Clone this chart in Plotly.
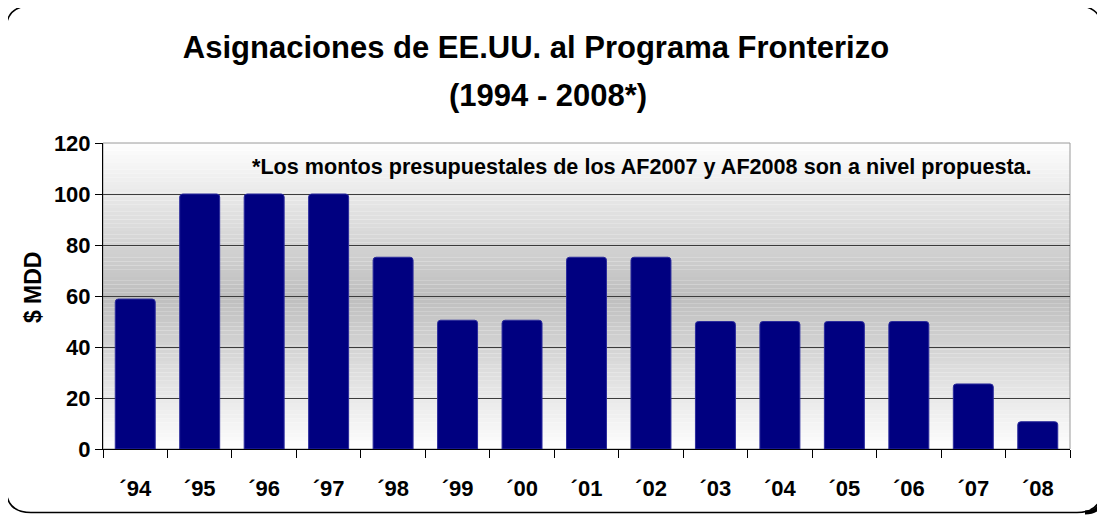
import plotly.graph_objects as go

categories = ["´94", "´95", "´96", "´97", "´98", "´99", "´00", "´01", "´02",
              "´03", "´04", "´05", "´06", "´07", "´08"]
values = [58.8, 100, 100, 100, 75.2, 50.5, 50.5, 75.2, 75.2, 50, 50, 50, 50, 25.5, 10.7]
y_ticks = [0, 20, 40, 60, 80, 100, 120]

title_line1 = "Asignaciones de EE.UU. al Programa Fronterizo"
title_line2 = "(1994 - 2008*)"
note_text = "*Los montos presupuestales de los AF2007 y AF2008 son a nivel propuesta."
y_title = "$ MDD"

# page body has an 8px default margin; figure is sized/positioned to compensate
OFF = 8
WIN_W, WIN_H = 1105, 515
W, H = WIN_W - OFF, WIN_H - OFF
# plot area in window pixels
PX0, PX1, PY0, PY1 = 103, 1070, 142.5, 449.3
L, R, T, B = PX0 - OFF, WIN_W - PX1, PY0 - OFF, WIN_H - PY1
PW, PH = PX1 - PX0, PY1 - PY0

def px(x):
    return (x - PX0) / PW

def py(y):
    return (PY1 - y) / PH

FONT = "Liberation Sans, Arial, sans-serif"

fig = go.Figure()
fig.add_trace(go.Bar(
    x=categories, y=values,
    marker=dict(color="#000080", line=dict(color="#2b2b9c", width=1), cornerradius=3),
    hoverinfo="x+y",
))

shapes = []
# gradient background (white edges, gray centre)
N = 80
for i in range(N):
    t0, t1 = i / N, (i + 1) / N
    tm = (t0 + t1) / 2
    g = int(round(254 - 64 * (1 - abs(tm - 0.5) / 0.5)))
    col = f"rgb({g},{g},{g})"
    shapes.append(dict(type="rect", xref="paper", yref="paper", x0=0, x1=1, y0=t0, y1=t1,
                       fillcolor=col, line=dict(width=0), layer="below"))
# plot area border
shapes.append(dict(type="rect", xref="paper", yref="paper", x0=0, x1=1, y0=0, y1=1,
                   line=dict(color="#9a9a9a", width=1), layer="below"))

# outer rounded frame
xl, xr, yt, yb, r = 6, 1102, 5, 513, 25
path = (f"M {px(xl+r)},{py(yt)} L {px(xr-r)},{py(yt)} Q {px(xr)},{py(yt)} {px(xr)},{py(yt+r)} "
        f"L {px(xr)},{py(yb-r)} Q {px(xr)},{py(yb)} {px(xr-r)},{py(yb)} "
        f"L {px(xl+r)},{py(yb)} Q {px(xl)},{py(yb)} {px(xl)},{py(yb-r)} "
        f"L {px(xl)},{py(yt+r)} Q {px(xl)},{py(yt)} {px(xl+r)},{py(yt)} Z")
shapes.append(dict(type="path", xref="paper", yref="paper", path=path,
                   line=dict(color="#000000", width=1.5), layer="above"))
# thick shadow at bottom-right corner
path2 = f"M {px(xr)},{py(yb-r+8)} Q {px(xr)},{py(yb)} {px(xr-r+8)},{py(yb)}"
shapes.append(dict(type="path", xref="paper", yref="paper", path=path2,
                   line=dict(color="#000000", width=4), layer="above"))

annotations = [
    dict(text=title_line2, xref="paper", yref="paper", x=px(548), y=py(95),
         xanchor="center", yanchor="middle", showarrow=False,
         font=dict(family=FONT, size=31, color="#000000", weight="bold")),
    dict(text=note_text, xref="paper", yref="paper", x=px(250), y=py(166),
         xanchor="left", yanchor="middle", showarrow=False,
         font=dict(family=FONT, size=21.6, color="#000000", weight="bold")),
    dict(text=y_title, xref="paper", yref="paper", x=px(33), y=py(287),
         xanchor="center", yanchor="middle", showarrow=False, textangle=-90,
         font=dict(family=FONT, size=23, color="#000000", weight="bold")),
]

fig.update_layout(
    width=W, height=H,
    margin=dict(l=L, r=R, t=T, b=B, autoexpand=False),
    paper_bgcolor="white", plot_bgcolor="white",
    bargap=0.38,
    showlegend=False,
    title=dict(text=title_line1, x=(536 - OFF) / W, xanchor="center", xref="container",
               y=1 - (47 - OFF) / H, yanchor="middle", yref="container",
               font=dict(family=FONT, size=31, color="#000000", weight="bold")),
    shapes=shapes,
    annotations=annotations,
)
fig.update_xaxes(
    type="category", categoryorder="array", categoryarray=categories,
    tickson="boundaries", ticks="outside", ticklen=8, tickcolor="#000000", tickwidth=1,
    showline=True, linecolor="#000000", linewidth=1, showgrid=False,
    ticklabelstandoff=20,
    tickfont=dict(family=FONT, size=22, color="#000000", weight="bold"),
)
fig.update_yaxes(
    range=[0, 120], tickvals=y_ticks, ticks="outside", ticklen=7, tickcolor="#000000",
    showline=True, linecolor="#000000", linewidth=1,
    showgrid=True, gridcolor="#3c3c3c", gridwidth=1, zeroline=False,
    tickfont=dict(family=FONT, size=22, color="#000000", weight="bold"),
)

fig.write_html("out.html")
